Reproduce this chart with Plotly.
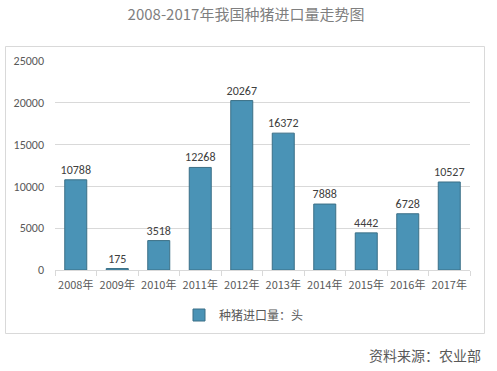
import plotly.graph_objects as go

years = ["2008年", "2009年", "2010年", "2011年", "2012年", "2013年", "2014年", "2015年", "2016年", "2017年"]
imports = [10788, 175, 3518, 12268, 20267, 16372, 7888, 4442, 6728, 10527]
series_name = "种猪进口量：头"
title_text = "2008-2017年我国种猪进口量走势图"
source_text = "资料来源：农业部"
yticks = [0, 5000, 10000, 15000, 20000, 25000]

FONT = "Calibri, 'Liberation Sans', 'Noto Sans CJK SC', sans-serif"
CJK = "'Noto Sans CJK SC', sans-serif"

W, H = 497, 371
L, R, T, B = 55, 470, 61, 270
pw, ph = R - L, B - T

def px(x):
    return (x - L) / pw

def py(y):
    return (B - y) / ph

fig = go.Figure()
fig.add_trace(go.Bar(
    x=years, y=imports, name=series_name,
    marker=dict(color="#4A93B6", line=dict(color="#3B6F86", width=1)),
    text=[str(v) for v in imports], textposition="outside",
    textfont=dict(size=12, color="#404040", family=FONT),
    constraintext="none",
    cliponaxis=False,
))

fig.update_layout(
    width=W, height=H,
    margin=dict(l=L, r=W - R, t=T, b=H - B, autoexpand=False),
    paper_bgcolor="white", plot_bgcolor="white",
    bargap=0.47,
    showlegend=True,
    legend=dict(orientation="h", x=px(244), xanchor="center", y=py(315), yanchor="middle",
                font=dict(size=12, color="#595959", family=CJK), itemwidth=30),
    title=dict(text=title_text, xref="container", x=246 / W, xanchor="center",
               y=1 - 15 / H, yanchor="middle", font=dict(size=15, color="#7F7F7F", family=CJK)),
    font=dict(family=FONT, color="#595959"),
)

fig.update_yaxes(range=[0, 25000], tickvals=yticks, ticktext=[str(v) for v in yticks],
                 showgrid=True, gridcolor="#D9D9D9",
                 gridwidth=1, zeroline=False, showline=False, ticks="", automargin=False,
                 tickfont=dict(size=12, color="#595959", family=FONT), ticklabelstandoff=10)
fig.update_xaxes(showgrid=False, showline=True, linecolor="#D9D9D9", linewidth=1,
                 ticks="outside", tickson="boundaries", ticklen=5, tickcolor="#D9D9D9",
                 tickangle=0, automargin=False, ticklabelstandoff=5,
                 tickfont=dict(size=11, color="#595959", family=CJK))

fig.add_shape(type="rect", xref="paper", yref="paper",
              x0=px(5.5), x1=px(484.5), y0=py(333.5), y1=py(46.5),
              line=dict(color="#D9D9D9", width=1), fillcolor="rgba(0,0,0,0)", layer="below")

fig.add_annotation(text=source_text, xref="paper", yref="paper", x=px(483), y=py(355),
                   xanchor="right", yanchor="middle", showarrow=False,
                   font=dict(size=14, color="#595959", family=CJK))

fig.write_html("out.html", config={"displayModeBar": False},
               post_script="document.body.style.margin='0';document.body.style.overflow='hidden';")
